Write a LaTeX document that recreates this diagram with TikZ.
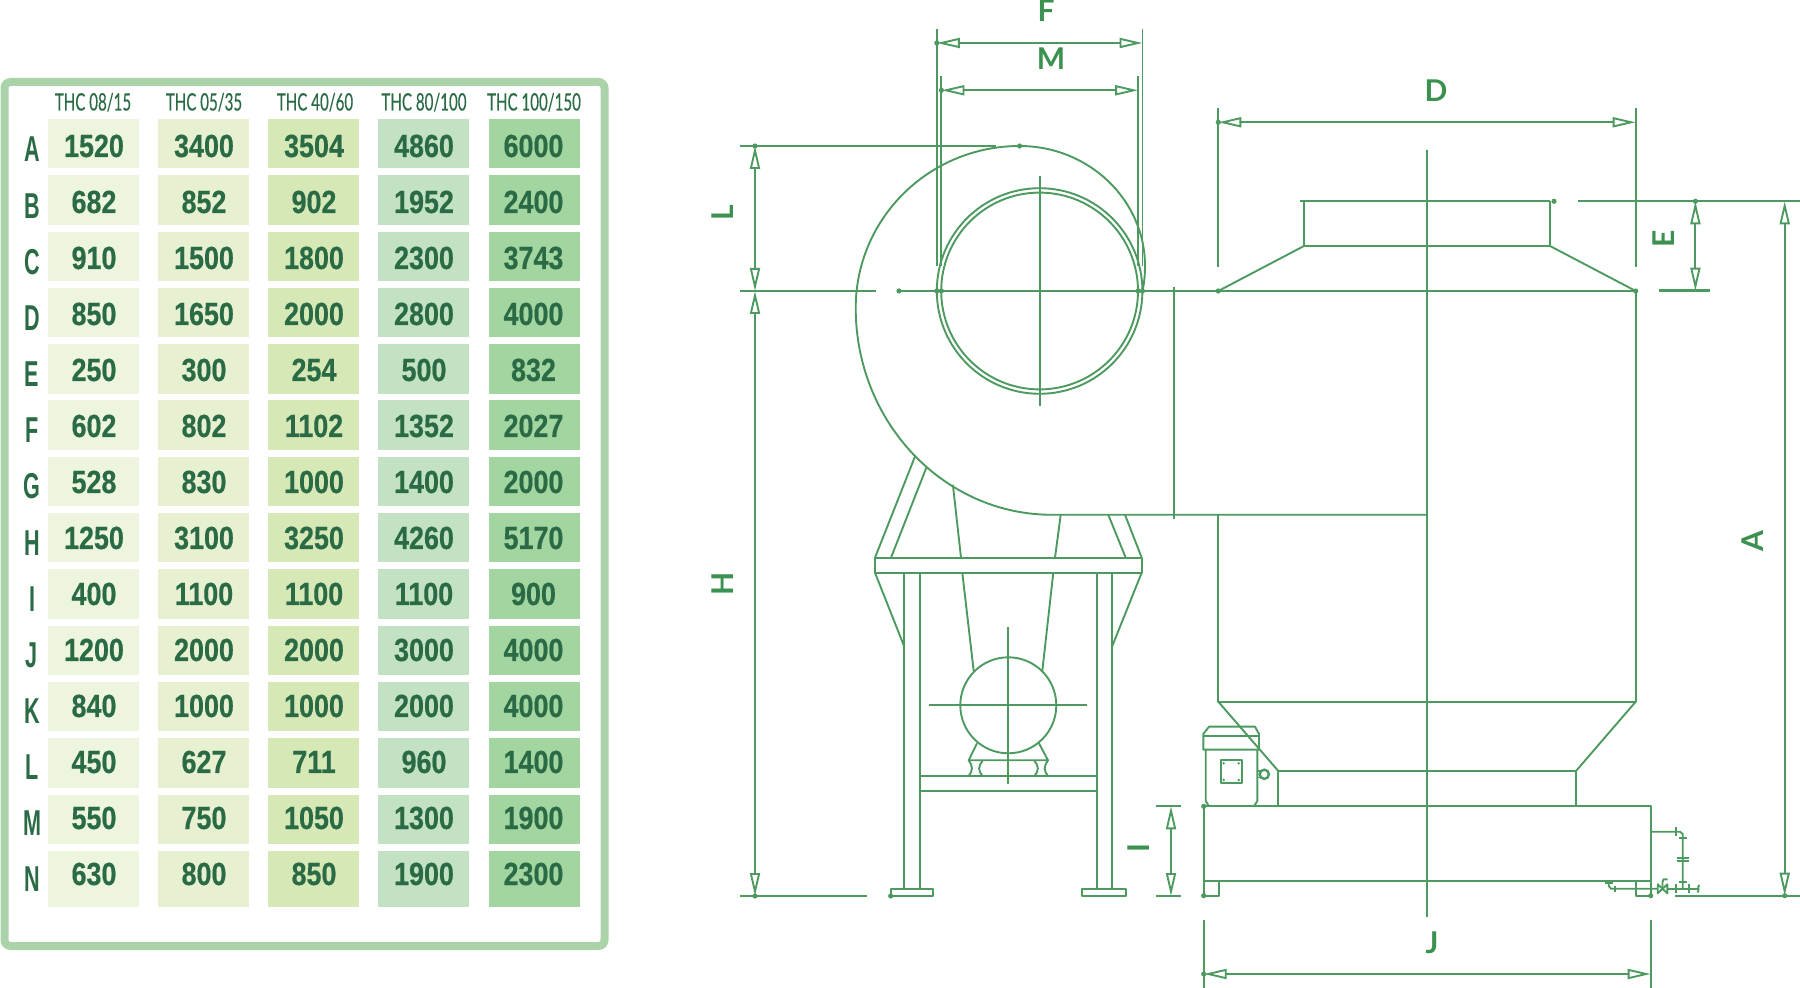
\documentclass[tikz,border=0pt]{standalone}
\usepackage{fontspec}
\usetikzlibrary{arrows.meta}
\setmainfont{Liberation Sans}
\newfontfamily\numfont[FakeStretch=0.84,BoldFeatures={FakeBold=0.4}]{Liberation Sans}
\newfontfamily\rowfont[FakeStretch=0.60]{Liberation Sans}
\newfontfamily\headfont[FakeStretch=0.63,FakeBold=0.3]{Lato}
\newfontfamily\dimfont{Lato}
\definecolor{linegreen}{HTML}{4C9A60}
\definecolor{dimgreen}{HTML}{3B9150}
\definecolor{textgreen}{HTML}{2A6B45}
\definecolor{framegreen}{HTML}{ABD3A9}
\definecolor{colA}{HTML}{EDF5DF}
\definecolor{colB}{HTML}{E7F1D2}
\definecolor{colC}{HTML}{D5E8B6}
\definecolor{colD}{HTML}{C3E1C3}
\definecolor{colE}{HTML}{A3D5A1}
\tikzset{
  ln/.style={draw=linegreen,line width=0.95pt,line join=round},
  thick line/.style={draw=linegreen,line width=1.2pt},
  dimline/.style={draw=linegreen,line width=0.95pt,{Triangle[open,length=11.5pt,width=5pt]}-{Triangle[open,length=11.5pt,width=5pt]}},
  numtxt/.style={anchor=base,inner sep=0pt,text=textgreen,font=\numfont\bfseries\fontsize{16}{16}\selectfont},
  rowtxt/.style={anchor=base,inner sep=0pt,text=textgreen,font=\rowfont\bfseries\fontsize{18}{18}\selectfont},
  headtxt/.style={anchor=base,inner sep=0pt,text=textgreen,font=\headfont\fontsize{12}{12}\selectfont},
  dimtxt/.style={inner sep=0pt,text=dimgreen,font=\dimfont\bfseries\fontsize{15}{15}\selectfont},
}
\newcommand{\pdot}[2]{\fill[linegreen] (#1,#2) circle [radius=2.6];}
\begin{document}
\begin{tikzpicture}[x=0.5pt,y=-0.5pt]
\useasboundingbox (0,0) rectangle (1800,988);
% ---- table ----
\draw[framegreen,line width=4pt,rounded corners=3pt] (4.5,82) rectangle (604.5,946);
\foreach \cx/\cl/\cr/\cc/\h/\tx in {93/48/139/colA/THC 08\slash 15/93,204/158/249/colB/THC 05\slash 35/204,315/268/359/colC/THC 40\slash 60/315,424/377.5/469/colD/THC 80\slash 100/424,534/489/580/colE/THC 100\slash 150/534}{
  \foreach \i in {0,...,12}{
    \fill[\cc] (\cl,119+56.3*\i) rectangle (\cr,168.4+56.3*\i);
  }
  \fill[\cc] (\cl,851) rectangle (\cr,907);
  \node[headtxt] (head\cx) at (\tx,110.5) {\h};
}
\foreach \l [count=\i from 0] in {A,B,C,D,E,F,G,H,I,J,K,L,M,N}{
  \node[rowtxt] (row\l) at (32,162+56.15*\i) {\l};
}
\foreach \a/\b/\c/\d/\e [count=\i from 0] in {
 1520/3400/3504/4860/6000,
 682/852/902/1952/2400,
 910/1500/1800/2300/3743,
 850/1650/2000/2800/4000,
 250/300/254/500/832,
 602/802/1102/1352/2027,
 528/830/1000/1400/2000,
 1250/3100/3250/4260/5170,
 400/1100/1100/1100/900,
 1200/2000/2000/3000/4000,
 840/1000/1000/2000/4000,
 450/627/711/960/1400,
 550/750/1050/1300/1900,
 630/800/850/1900/2300}{
  \node[numtxt] (a\i) at (94,157+56*\i) {\a};
  \node[numtxt] (b\i) at (204,157+56*\i) {\b};
  \node[numtxt] (c\i) at (314,157+56*\i) {\c};
  \node[numtxt] (d\i) at (424,157+56*\i) {\d};
  \node[numtxt] (e\i) at (533.5,157+56*\i) {\e};
}
\begin{scope}[yshift=-0.5pt]
% ---- fan volute ----
\draw[ln] (1142.5,290) .. controls (1144,283) and (1145,275) .. (1145,265)
  .. controls (1145,198.7) and (1088.6,145) .. (1019.6,145)
  .. controls (929,145) and (855.7,217.5) .. (855.7,307)
  .. controls (855.7,421) and (943.6,513.8) .. (1052,513.8) -- (1427,513.8);
\draw[ln] (1039.6,290) circle [radius=102.8];
\draw[ln] (1039.6,290) circle [radius=98.4];
\draw[ln] (1039.6,175) -- (1039.6,405);
\draw[ln] (1173.6,286) -- (1173.6,518);
% axis
\draw[thick line] (740,290) -- (875.7,290);
\draw[ln] (899,290) -- (1218.3,290);
\draw[thick line] (1218.3,290) -- (1635.7,290);
\pdot{899}{290}\pdot{936.8}{290}\pdot{941.4}{290}\pdot{1138.2}{290}\pdot{1142.5}{290}\pdot{1218.3}{290}\pdot{1635.7}{290}
% tank
\draw[ln] (1299.8,200.3) -- (1550,200.3);
\draw[ln] (1304,200.3) -- (1304,245) -- (1550,245) -- (1550,200.3);
\pdot{1554}{200.3}
\draw[ln] (1218.3,290) -- (1304,245);
\draw[ln] (1635.7,290) -- (1550,245);
\draw[ln] (1218.3,513.8) -- (1218.3,700.7) -- (1635.7,700.7) -- (1635.7,290);
\draw[ln] (1218.3,700.7) -- (1278.3,770) -- (1576,770) -- (1635.7,700.7);
\draw[ln] (1278.3,770) -- (1278.3,805.3);
\draw[ln] (1576,770) -- (1576,805.3);
\draw[ln] (1426.7,149.3) -- (1426.7,915.7);
% base
\draw[ln] (1203.7,895) -- (1203.7,805.3) -- (1650.7,805.3) -- (1650.7,895);
\draw[ln] (1203.7,880) -- (1650.7,880);
\draw[ln] (1218.7,880) -- (1218.7,894.7) -- (1203.7,894.7);
\draw[ln] (1636,880) -- (1636,894.7) -- (1650.7,894.7);
\pdot{1203.7}{805.3}\pdot{1203.7}{894.7}\pdot{1650.7}{894.7}
% small motor
\draw[ln] (1203.3,748.7) -- (1203.3,733) -- (1209,725.7) -- (1255,725.7) -- (1259,733) -- (1259,748.7) -- cycle;
\draw[ln] (1203.3,735) -- (1259,735);
\draw[ln] (1205.7,748.7) -- (1205.7,800) -- (1209,805.3);
\draw[ln] (1257.3,748.7) -- (1257.3,800) -- (1254,805.3);
\draw[ln] (1220.7,759.3) rectangle (1242,782);
\foreach \bx/\by in {1223.7/762.3,1238.7/762.3,1223.7/779,1238.7/779}{\fill[linegreen] (\bx,\by) circle [radius=1.3];}
\draw[draw=linegreen,line width=1.2pt] (1264.3,773.3) circle [radius=4.6];
\draw[ln] (1257.3,770) -- (1259.7,770);
\draw[ln] (1257.3,776.5) -- (1259.7,776.5);
% pipework
\draw[ln] (1650.7,830.7) -- (1680,830.7) -- (1682.7,833) -- (1682.7,887.7);
\draw[ln] (1676,825.5) -- (1676,834.5);
\draw[ln] (1678.7,836.7) -- (1686.7,836.7);
\draw[ln] (1676.7,857.3) -- (1688.7,857.3);
\draw[ln] (1676.7,860) -- (1688.7,860);
\draw[ln] (1678.7,881.3) -- (1686.7,881.3);
\draw[ln] (1605,881.7) -- (1612.7,881.7);
\draw[ln] (1608.7,881.7) -- (1608.7,885) -- (1611,887.7) -- (1657.7,887.7);
\draw[ln] (1667.3,887.7) -- (1698,887.7);
\draw[ln] (1615,884.7) -- (1615,891);
\draw[ln] (1676,882.5) -- (1676,892);
\draw[ln] (1689,882.5) -- (1689,892);
\draw[ln] (1657.7,883.3) -- (1667.3,892.3) -- (1667.3,883.3) -- (1657.7,892.3) -- cycle;
\draw[ln] (1662.5,887.7) -- (1662.5,881) -- (1663.5,878.3) -- (1667.5,878.3);
\draw[ln] (1699.5,884) .. controls (1696.5,886) and (1700,889) .. (1697.5,891.5);
% support
\draw[ln] (875,556.7) rectangle (1141.7,571.7);
\draw[ln] (875,556.7) -- (915.4,454.5);
\draw[ln] (891,556.7) -- (926.8,465.5);
\draw[ln] (1141.7,556.7) -- (1125,513.8);
\draw[ln] (1125.7,556.7) -- (1108.3,513.8);
\draw[ln] (961,556.7) -- (952.9,483.8);
\draw[ln] (1055,556.7) -- (1060.7,513.8);
\draw[ln] (962.3,571.7) -- (973.7,670);
\draw[ln] (1053.3,571.7) -- (1042.3,670);
\draw[ln] (904.3,571.7) -- (904.3,888.3);
\draw[ln] (920,571.7) -- (920,888.3);
\draw[ln] (1096.7,571.7) -- (1096.7,888.3);
\draw[ln] (1112,571.7) -- (1112,888.3);
\draw[ln] (890.7,888.3) rectangle (933.3,895);
\draw[ln] (1082.3,888.3) rectangle (1125.7,895);
\pdot{890.7}{895}
\draw[ln] (875,571.7) -- (904.3,645.7);
\draw[ln] (1141.7,571.7) -- (1112,645.7);
\draw[ln] (920,775) -- (1096.7,775);
\draw[ln] (920,790) -- (1096.7,790);
% fan motor
\draw[ln] (1008.3,704.3) circle [radius=48];
\draw[ln] (929,704.3) -- (1086.7,704.3);
\draw[ln] (1008.3,626) -- (1008.3,783.3);
\draw[ln] (977,742.3) -- (968.7,759.3) -- (1048,759.3) -- (1039,742.3);
\draw[ln] (968.7,759.3) .. controls (973,766) and (973,769) .. (968.7,775);
\draw[ln] (982.5,760) .. controls (978,766) and (978,769) .. (982.5,775);
\draw[ln] (1034.5,760) .. controls (1039,766) and (1039,769) .. (1034.5,775);
\draw[ln] (1048,759.3) .. controls (1043.5,766) and (1043.5,769) .. (1048,775);
% extension lines
\draw[ln] (936.8,27.6) -- (936.8,265.5);
\draw[ln] (1142.5,27.6) -- (1142.5,265.5);
\draw[ln] (941.4,75) -- (941.4,265.5);
\draw[ln] (1138.2,75) -- (1138.2,265.5);
\draw[ln] (1218.3,106.7) -- (1218.3,265.7);
\draw[ln] (1635.7,106.7) -- (1635.7,265.7);
\draw[ln] (740,145) -- (996,145);
\pdot{1019.6}{145}
\draw[thick line] (1578,200.3) -- (1710,200.3);
\draw[ln] (1710,200.3) -- (1800,200.3);
\draw[thick line] (1659,289.7) -- (1710,289.7);
\draw[thick line] (740,895) -- (867,895);
\draw[thick line] (1675,894.7) -- (1800,894.7);
\draw[ln] (1156,805.3) -- (1181,805.3);
\draw[ln] (1156,895) -- (1181,895);
\draw[ln] (1203.7,919) -- (1203.7,988);
\draw[ln] (1650.7,919) -- (1650.7,988);
% dimensions
\draw[dimline] (936.8,42) -- (1142.5,42);
\pdot{936.8}{42}
\draw[dimline] (941.4,89.3) -- (1138.2,89.3);
\pdot{941.4}{89.3}
\draw[dimline] (1218.3,121.3) -- (1635.7,121.3);
\pdot{1218.3}{121.3}
\draw[dimline] (1203.7,973) -- (1650.7,973);
\pdot{1203.7}{973}
\draw[dimline] (755,145) -- (755,290);
\draw[dimline] (755,290) -- (755,895);
\pdot{755}{145}\pdot{755}{895}
\draw[dimline] (1695.4,200.3) -- (1695.4,289.7);
\pdot{1695.4}{200.3}
\draw[dimline] (1784.7,200.3) -- (1784.7,894.7);
\pdot{1784.7}{894.7}
\draw[dimline] (1171,805.3) -- (1171,895);
% labels
\node[dimtxt] (lblF) at (1046,10) {F};
\node[dimtxt] (lblM) at (1051,58) {M};
\node[dimtxt] (lblD) at (1436,90) {D};
\node[dimtxt] (lblJ) at (1432,942) {J};
\node[dimtxt,rotate=90] (lblL) at (723,212) {L};
\node[dimtxt,rotate=90] (lblE) at (1664,238) {E};
\node[dimtxt,rotate=90] (lblA) at (1753,540) {A};
\node[dimtxt,rotate=90] (lblH) at (723,583) {H};
\node[dimtxt,rotate=90] (lblI) at (1139,847) {I};
\end{scope}
\end{tikzpicture}
\end{document}
